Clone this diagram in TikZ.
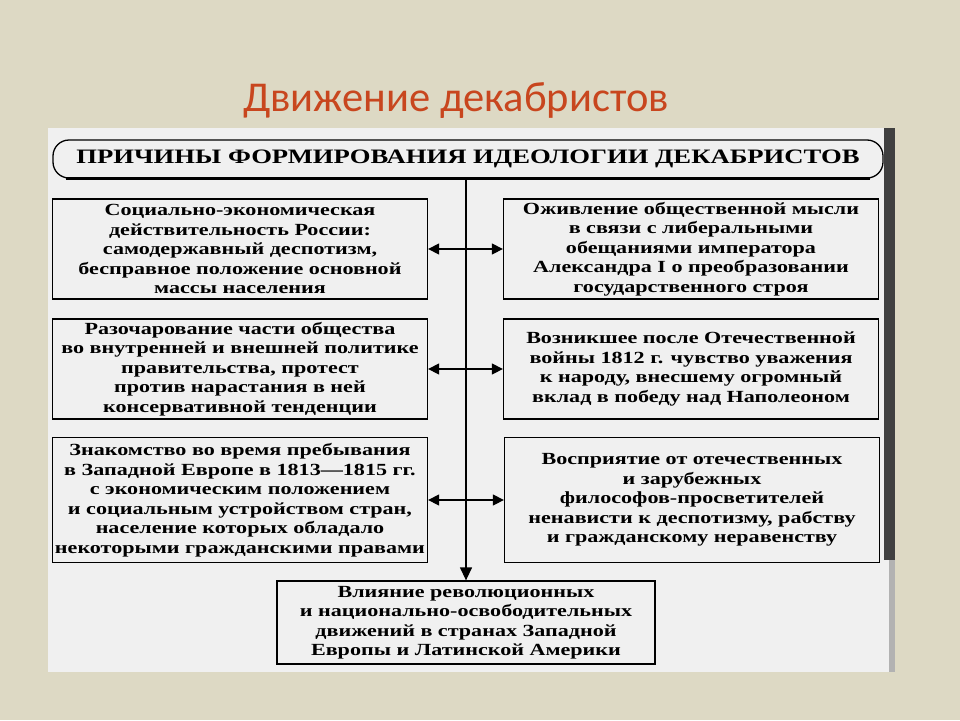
\documentclass[tikz,border=0pt]{standalone}
\usepackage{fontspec}
\setmainfont{Liberation Serif}
\newfontfamily\titlefont{Carlito}
\newfontfamily\scanfont[FakeStretch=1.3]{Liberation Serif}
\usepackage{xcolor}
\usetikzlibrary{arrows.meta, positioning}
\definecolor{slidebg}{RGB}{221,217,196}
\definecolor{titlered}{RGB}{200,70,30}
\definecolor{scanpaper}{RGB}{240,240,240}

\begin{document}
\begin{tikzpicture}[x=1pt, y=-1pt,
    block/.style={rectangle, draw, line width=1.3pt, fill=scanpaper, text centered, align=center, inner sep=0pt, minimum width=375pt, minimum height=100pt, font=\scanfont\bfseries\fontsize{17}{19.5}\selectfont},
    banner/.style={rectangle, draw, line width=1.3pt, rounded corners=16pt, minimum width=830pt, minimum height=38pt, font=\scanfont\bfseries\fontsize{20.5}{22}\selectfont},
    link/.style={{Triangle[length=11pt,width=11pt]}-{Triangle[length=11pt,width=11pt]}, line width=1.3pt}]

% Slide and scanned sheet
\fill[slidebg] (0,0) rectangle (960,720);
\useasboundingbox (0,0) rectangle (960,720);
\fill[scanpaper] (48,128) rectangle (895,672);
\fill[black!75] (884,128) rectangle (895,560);
\fill[black!30] (889,560) rectangle (895,672);

% Title
\node[font=\titlefont\fontsize{42.5}{50}\selectfont, text=titlered] (title) at (456,101) {Движение декабристов};

% Nodes
\node[banner] (banner) at (468,159) {ПРИЧИНЫ ФОРМИРОВАНИЯ ИДЕОЛОГИИ ДЕКАБРИСТОВ};
\draw[line width=3.5pt] ([xshift=14pt]banner.south west) -- ([xshift=-14pt]banner.south east);

\node[block] (L1) at (240,249) {Социально-экономическая\\действительность России:\\самодержавный деспотизм,\\бесправное положение основной\\массы населения};
\node[block] (R1) at (691,249) {Оживление общественной мысли\\в связи с либеральными\\обещаниями императора\\Александра I о преобразовании\\государственного строя};
\node[block] (L2) at (240,369) {Разочарование части общества\\во внутренней и внешней политике\\правительства, протест\\против нарастания в ней\\консервативной тенденции};
\node[block] (R2) at (691,369) {Возникшее после Отечественной\\войны 1812 г. чувство уважения\\к народу, внесшему огромный\\вклад в победу над Наполеоном};
\node[block, minimum height=125pt] (L3) at (240,500) {Знакомство во время пребывания\\в Западной Европе в 1813—1815 гг.\\с экономическим положением\\и социальным устройством стран,\\население которых обладало\\некоторыми гражданскими правами};
\node[block, minimum height=125pt] (R3) at (692,500) {Восприятие от отечественных\\и зарубежных\\философов-просветителей\\ненависти к деспотизму, рабству\\и гражданскому неравенству};
\node[block, minimum width=378pt, minimum height=83pt] (B) at (466,622.5) {Влияние революционных\\и национально-освободительных\\движений в странах Западной\\Европы и Латинской Америки};

% Arrows
\draw[line width=1.3pt, -{Triangle[length=13pt,width=12pt]}] (banner.south -| B.north) -- (B.north);
\draw[link] (L1.east) -- (R1.west);
\draw[link] (L2.east) -- (R2.west);
\draw[link] (L3.east) -- (R3.west);

\end{tikzpicture}
\end{document}
